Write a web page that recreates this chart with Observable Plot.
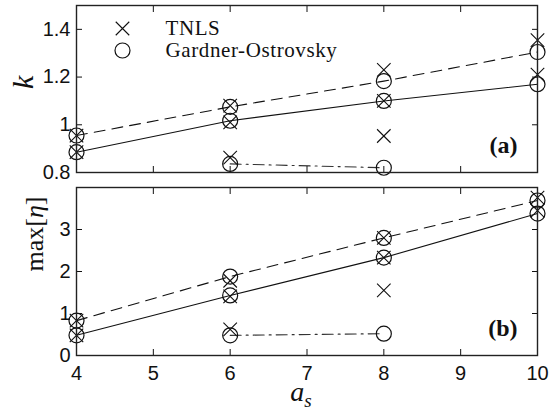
<!DOCTYPE html>
<html><head><meta charset="utf-8">
<script src="https://cdn.jsdelivr.net/npm/d3@7"></script>
<script src="https://cdn.jsdelivr.net/npm/@observablehq/plot@0.6"></script>
<style>
body{margin:0;background:#fff;}
#chart{width:551px;height:414px;}
#chart svg{display:block;}
</style></head><body><div id="chart"></div>
<script>
// ---- data ----
const aS = [4, 6, 8, 10];
const aSLow = [6, 8];
const xTicks = [4, 5, 6, 7, 8, 9, 10];
const kTicks = [0.8, 1, 1.2, 1.4];
const etaTicks = [0, 1, 2, 3];
const legendLabels = ["TNLS", "Gardner-Ostrovsky"];

// panel (a): k
const kSolidGO = [0.885, 1.017, 1.10, 1.17];
const kSolidTNLS = [0.885, 1.01, 1.10, 1.21];
const kDashGO = [0.955, 1.075, 1.183, 1.305];
const kDashTNLS = [0.955, 1.08, 1.23, 1.355];
const kLowGO = [0.836, 0.82];
const kLowTNLS = [0.862, 0.953];

// panel (b): max[eta]
const etaSolidGO = [0.48, 1.43, 2.33, 3.38];
const etaSolidTNLS = [0.48, 1.41, 2.33, 3.45];
const etaDashGO = [0.83, 1.88, 2.80, 3.69];
const etaDashTNLS = [0.83, 1.78, 2.80, 3.76];
const etaLowGO = [0.48, 0.52];
const etaLowTNLS = [0.62, 1.55];

const INK = "#111";
const SANS = "Liberation Sans, Arial, Helvetica, sans-serif";
const SERIF = "Liberation Serif, Times New Roman, serif";
const CROSS_R = 6.2;

function pts(xs, ys) { return xs.map((x, i) => ({x, y: ys[i]})); }

function panel(o) {
  const solidGO = pts(aS, o.solidGO), solidTN = pts(aS, o.solidTN);
  const dashGO = pts(aS, o.dashGO), dashTN = pts(aS, o.dashTN);
  const lowGO = pts(aSLow, o.lowGO), lowTN = pts(aSLow, o.lowTN);
  const allGO = [...solidGO, ...dashGO, ...lowGO];
  const allTN = [...solidTN, ...dashTN, ...lowTN];
  const marks = [
    Plot.line(solidGO, {x: "x", y: "y", stroke: INK, strokeWidth: 1.1}),
    Plot.line(dashGO, {x: "x", y: "y", stroke: INK, strokeWidth: 1.1, strokeDasharray: "11,7"}),
    Plot.line(lowGO, {x: "x", y: "y", stroke: "#333", strokeWidth: 1.1, strokeDasharray: "11,5,2,5"}),
    Plot.dot(allGO, {x: "x", y: "y", r: 7.5, stroke: INK, strokeWidth: 1.2, fill: "none"}),
    Plot.dot(allTN, {x: "x", y: "y", r: CROSS_R, symbol: "times", stroke: INK, strokeWidth: 1.1}),
    // inward ticks on all four sides
    Plot.axisX({anchor: "bottom", ticks: xTicks, tickSize: -6, tickFormat: () => "", label: null, stroke: INK}),
    Plot.axisX({anchor: "top", ticks: xTicks, tickSize: -6, tickFormat: () => "", label: null, stroke: INK}),
    Plot.axisY({anchor: "left", ticks: o.yTicks, tickSize: -6, tickFormat: () => "", label: null, stroke: INK}),
    Plot.axisY({anchor: "right", ticks: o.yTicks, tickSize: -6, tickFormat: () => "", label: null, stroke: INK}),
    // tick labels
    Plot.axisY({anchor: "left", ticks: o.yTicks, tickSize: 0, tickPadding: 6, tickFormat: d => String(d), label: null, fontSize: 20, fontFamily: SANS, fill: INK}),
    Plot.frame({stroke: "#222", strokeWidth: 1.4}),
    Plot.text([o.panelLabel], {text: d => d, frameAnchor: "bottom-right", dx: -20, dy: -27, fontWeight: "bold", fontFamily: SERIF, fontSize: 24, fill: INK, lineAnchor: "middle", textAnchor: "end"}),
    Plot.text([o.yLabel], {text: d => d, frameAnchor: "left", dx: o.yLabelDx, rotate: -90, fontFamily: SERIF, fontSize: o.yLabelSize, fill: INK, lineAnchor: "bottom"})
  ];
  if (o.xLabels) {
    marks.push(Plot.axisX({anchor: "bottom", ticks: xTicks, tickSize: 0, tickPadding: 10, tickFormat: d => String(d), label: null, fontSize: 20, fontFamily: SANS, fill: INK}));
    marks.push(Plot.text(["as"], {text: d => d, frameAnchor: "bottom", dx: -6, dy: 45, fontFamily: SERIF, fontSize: 28, fill: INK, lineAnchor: "bottom"}));
  }
  if (o.legend) {
    marks.push(Plot.dot([legendLabels[0]], {frameAnchor: "top-left", dx: 46, dy: 23, r: CROSS_R, symbol: "times", stroke: INK, strokeWidth: 1.1}));
    marks.push(Plot.dot([legendLabels[1]], {frameAnchor: "top-left", dx: 46, dy: 45, r: 7.5, stroke: INK, strokeWidth: 1.2, fill: "none"}));
    marks.push(Plot.text([legendLabels[0]], {text: d => d, frameAnchor: "top-left", dx: 89, dy: 23, textAnchor: "start", lineAnchor: "middle", fontFamily: SERIF, fontSize: 21, fill: INK}));
    marks.push(Plot.text([legendLabels[1]], {text: d => d, frameAnchor: "top-left", dx: 89, dy: 45, textAnchor: "start", lineAnchor: "middle", fontFamily: SERIF, fontSize: 21, fill: INK}));
  }
  return Plot.plot({
    width: 551, height: o.height,
    marginLeft: 76, marginRight: 14, marginTop: o.marginTop, marginBottom: o.marginBottom,
    x: {domain: [4, 10]},
    y: {domain: o.yDomain},
    style: {background: "white", color: INK, fontFamily: SANS},
    marks
  });
}

const panelA = panel({
  height: 184, marginTop: 5, marginBottom: 12, yDomain: [0.8, 1.5], yTicks: kTicks,
  solidGO: kSolidGO, solidTN: kSolidTNLS, dashGO: kDashGO, dashTN: kDashTNLS, lowGO: kLowGO, lowTN: kLowTNLS,
  panelLabel: "(a)", yLabel: "k", yLabelDx: -44, yLabelSize: 30, legend: true, xLabels: false
});
const panelB = panel({
  height: 230, marginTop: 3, marginBottom: 59, yDomain: [0, 4], yTicks: etaTicks,
  solidGO: etaSolidGO, solidTN: etaSolidTNLS, dashGO: etaDashGO, dashTN: etaDashTNLS, lowGO: etaLowGO, lowTN: etaLowTNLS,
  panelLabel: "(b)", yLabel: "max[η]", yLabelDx: -34, yLabelSize: 26, legend: false, xLabels: true
});
const chart = document.getElementById("chart");
chart.appendChild(panelA);
chart.appendChild(panelB);

// legend text: slightly wider letter spacing (TeX-like)
d3.selectAll("#chart text").each(function() {
  const t = this.textContent;
  const sel = d3.select(this);
  if (t === "TNLS" || t === "Gardner-Ostrovsky") {
    sel.style("letter-spacing", "0.6px");
  } else if (t === "k") {
    sel.style("font-style", "italic");
  } else if (t === "max[η]") {
    const node = sel.selectAll("tspan").empty() ? sel : sel.select("tspan");
    node.text(null);
    node.append("tspan").text("max[");
    node.append("tspan").style("font-style", "italic").text("η");
    node.append("tspan").text("]");
  } else if (t === "as") {
    const node = sel.selectAll("tspan").empty() ? sel : sel.select("tspan");
    node.text(null);
    node.append("tspan").style("font-style", "italic").text("a");
    node.append("tspan").style("font-style", "italic").attr("font-size", 19).attr("dy", 6).text("s");
  }
});
</script>
</body></html>
